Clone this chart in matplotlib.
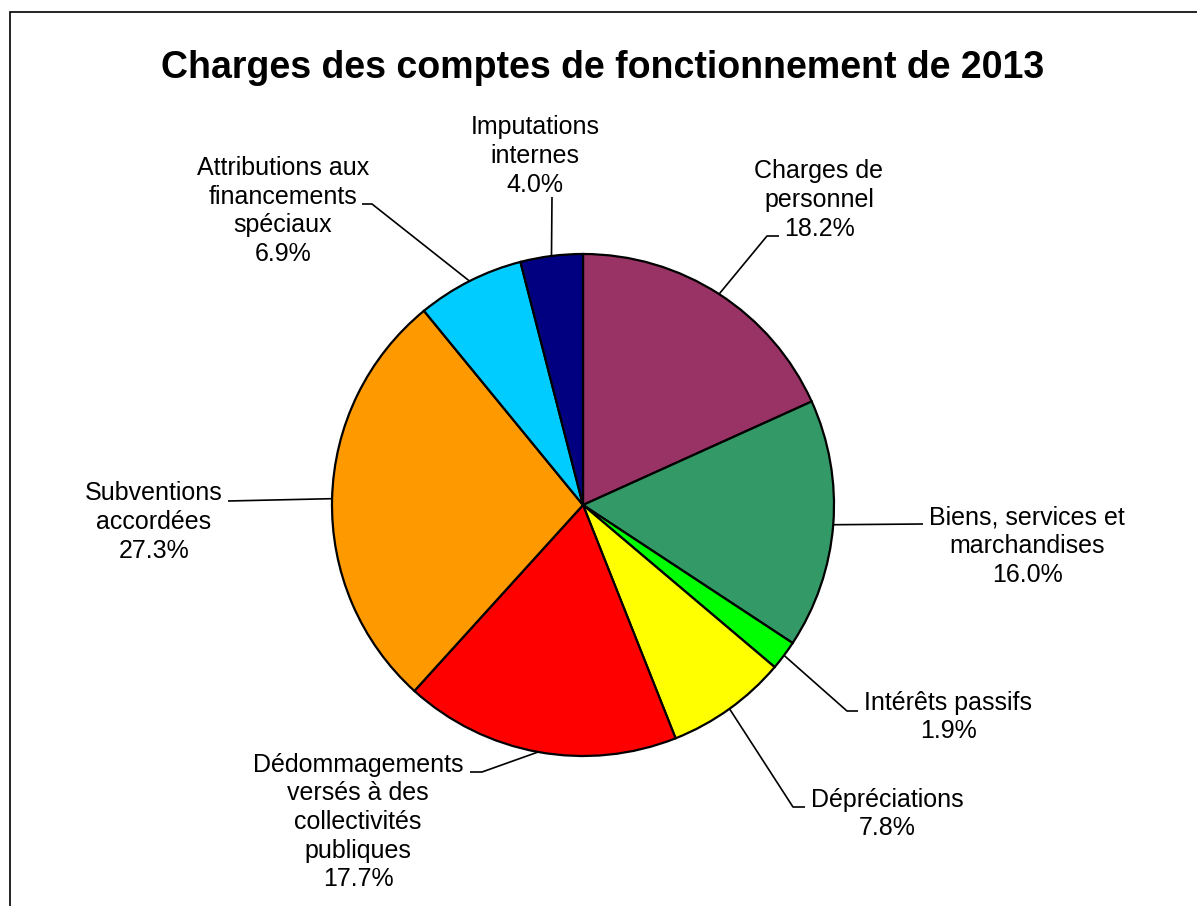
import numpy as np
import matplotlib
matplotlib.use("Agg")
import matplotlib.pyplot as plt
from matplotlib.patches import Rectangle

# ---- data ----
categories = ["Charges de\npersonnel", "Biens, services et\nmarchandises", "Intérêts passifs",
              "Dépréciations", "Dédommagements\nversés à des\ncollectivités\npubliques",
              "Subventions\naccordées", "Attributions aux\nfinancements\nspéciaux",
              "Imputations\ninternes"]
values = [18.2, 16.0, 1.9, 7.8, 17.7, 27.3, 6.9, 4.0]
colors = ["#993366", "#339966", "#00FF00", "#FFFF00", "#FF0000", "#FF9900", "#00CCFF", "#000080"]
title = "Charges des comptes de fonctionnement de 2013"

# ---- layout (pixel coordinates, y measured from top) ----
W, H = 1197, 906
cx, cy, R = 583, 505, 251
# text centre, leader elbow, leader end (near text)
label_pos = [(819, 200), (1027, 546), (948, 717), (887, 814), (358, 822), (154, 522), (283, 211), (535, 156)]
elbows = [(767, 236), (923, 524), (847, 711), (793, 807), (482, 772), (228, 501), (372, 204), (552, 197)]
ends = [(779, 236), (923, 524), (858, 711), (805, 807), (470, 772), (228, 501), (362, 204), (552, 197)]

def Y(y):
    return H - y

plt.rcParams['font.family'] = ['Liberation Sans', 'DejaVu Sans']
fig = plt.figure(figsize=(W / 100, H / 100), dpi=100)
ax = fig.add_axes([0, 0, 1, 1])

wedges, _ = ax.pie(values, colors=colors, startangle=90, counterclock=False,
                   center=(cx, Y(cy)), radius=R,
                   wedgeprops=dict(edgecolor='black', linewidth=1.6))
ax.set_xlim(0, W)
ax.set_ylim(0, H)
ax.set_aspect('equal')
ax.axis('off')

for w, lab, v, (tx, ty), (ex, ey), (nx, ny) in zip(wedges, categories, values, label_pos, elbows, ends):
    mid = np.deg2rad((w.theta1 + w.theta2) / 2)
    sx = cx + R * np.cos(mid)
    sy = Y(cy) + R * np.sin(mid)
    ax.plot([sx, ex, nx], [sy, Y(ey), Y(ny)], color='black', lw=1.2, solid_capstyle='butt')
    ax.text(tx, Y(ty), f"{lab}\n{v:.1f}%", ha='center', va='center', multialignment='center',
            fontsize=18, linespacing=1.24, color='black')

ax.text(603, Y(68), title, ha='center', va='center', fontsize=27, fontweight='bold')

ax.add_patch(Rectangle((10, -50), 1400, Y(12) + 50, fill=False, lw=1.2, edgecolor='black', clip_on=False))

fig.savefig("out.png", dpi=100)
